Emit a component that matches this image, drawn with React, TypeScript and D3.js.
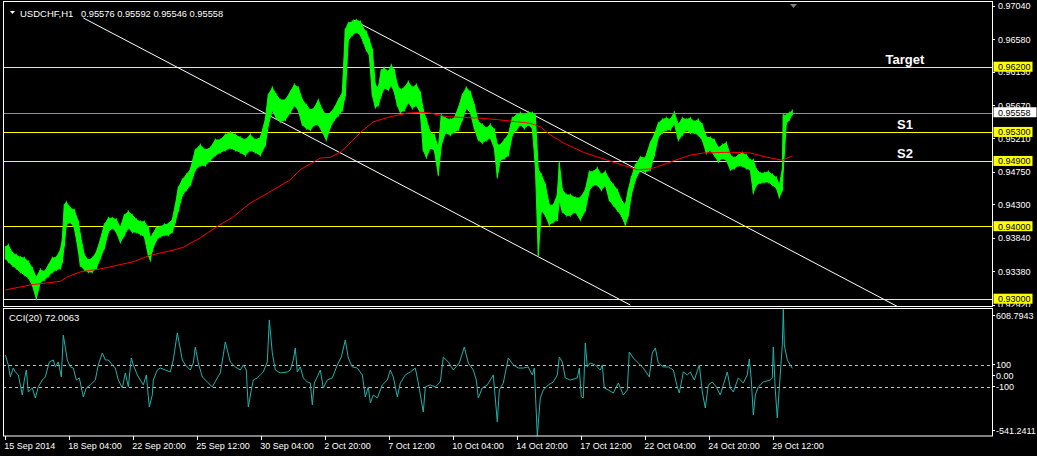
import React from "react";
import * as d3 from "d3";

// ---------- DATA ----------
const symbolTitle = "USDCHF,H1";
const lastOHLC = [0.95576, 0.95592, 0.95546, 0.95558];
const lastPrice = 0.95558;

// price bars: bar index, high, low (sampled)
const priceBars = [0,3,7,11,15,19,23,27,31,35,39,43,47,51,55,57,59,61,65,69,73,75,79,83,87,91,95,99,103,107,111,115,119,123,127,131,135,139,143,145,147,151,155,159,163,167,170,173,177,181,185,190,195,200,205,210,215,220,225,230,235,240,245,250,255,260,263,267,271,275,280,285,289,293,297,301,305,309,313,317,321,325,329,333,337,340,343,347,351,355,358,361,364,367,370,373,376,379,383,386,389,392,395,399,403,407,411,415,418,421,425,429,433,436,440,445,449,453,457,461,465,469,473,477,481,485,489,492,495,499,503,507,511,515,519,523,527,530,533,536,540,544,548,552,554,557,561,565,570,575,580,584,588,592,596,600,604,608,612,616,620,623,626,630,635,640,645,649,653,657,661,665,669,673,677,681,685,689,693,697,701,705,709,713,717,721,725,729,733,737,741,745,748,751,755,759,763,767,771,774,777,778,781,784,787];
const priceHigh = [0.9371,0.9374,0.9363,0.9360,0.9357,0.9356,0.9351,0.9342,0.9329,0.9340,0.9337,0.9346,0.9356,0.9357,0.9367,0.9381,0.9429,0.9433,0.9425,0.9422,0.9406,0.9388,0.9360,0.9353,0.9356,0.9364,0.9381,0.9402,0.9411,0.9411,0.9409,0.9398,0.9415,0.9420,0.9415,0.9409,0.9406,0.9406,0.9398,0.9384,0.9388,0.9398,0.9399,0.9402,0.9403,0.9409,0.9429,0.9453,0.9464,0.9471,0.9478,0.9505,0.9512,0.9505,0.9508,0.9519,0.9519,0.9526,0.9529,0.9526,0.9522,0.9519,0.9526,0.9519,0.9522,0.9547,0.9581,0.9591,0.9581,0.9574,0.9574,0.9585,0.9595,0.9591,0.9574,0.9567,0.9560,0.9563,0.9574,0.9560,0.9553,0.9556,0.9563,0.9574,0.9584,0.9671,0.9680,0.9682,0.9684,0.9682,0.9673,0.9668,0.9657,0.9643,0.9595,0.9591,0.9615,0.9618,0.9613,0.9622,0.9615,0.9595,0.9588,0.9591,0.9599,0.9591,0.9595,0.9584,0.9560,0.9547,0.9529,0.9526,0.9508,0.9553,0.9549,0.9547,0.9549,0.9563,0.9581,0.9591,0.9585,0.9567,0.9544,0.9540,0.9535,0.9540,0.9533,0.9512,0.9512,0.9519,0.9526,0.9549,0.9553,0.9556,0.9553,0.9557,0.9556,0.9553,0.9478,0.9471,0.9457,0.9429,0.9429,0.9443,0.9487,0.9450,0.9443,0.9443,0.9439,0.9439,0.9450,0.9475,0.9475,0.9480,0.9471,0.9475,0.9464,0.9457,0.9450,0.9436,0.9429,0.9450,0.9467,0.9484,0.9495,0.9494,0.9515,0.9526,0.9542,0.9547,0.9549,0.9547,0.9557,0.9540,0.9549,0.9547,0.9549,0.9544,0.9547,0.9540,0.9523,0.9522,0.9519,0.9508,0.9512,0.9515,0.9498,0.9494,0.9498,0.9501,0.9498,0.9491,0.9491,0.9478,0.9473,0.9473,0.9475,0.9471,0.9467,0.9457,0.9478,0.9553,0.9553,0.9556,0.9559];
const priceLow = [0.9356,0.9351,0.9346,0.9342,0.9337,0.9333,0.9329,0.9319,0.9300,0.9323,0.9326,0.9331,0.9337,0.9340,0.9342,0.9351,0.9374,0.9402,0.9406,0.9398,0.9367,0.9346,0.9340,0.9337,0.9337,0.9342,0.9356,0.9370,0.9392,0.9398,0.9392,0.9378,0.9388,0.9398,0.9392,0.9392,0.9389,0.9386,0.9360,0.9353,0.9367,0.9381,0.9386,0.9388,0.9388,0.9392,0.9406,0.9422,0.9443,0.9450,0.9457,0.9478,0.9484,0.9484,0.9491,0.9498,0.9502,0.9505,0.9508,0.9505,0.9502,0.9498,0.9505,0.9502,0.9498,0.9512,0.9540,0.9560,0.9549,0.9544,0.9547,0.9557,0.9567,0.9560,0.9540,0.9535,0.9533,0.9540,0.9540,0.9530,0.9519,0.9537,0.9547,0.9553,0.9560,0.9581,0.9657,0.9664,0.9668,0.9664,0.9654,0.9643,0.9636,0.9581,0.9564,0.9567,0.9581,0.9591,0.9588,0.9595,0.9585,0.9567,0.9557,0.9560,0.9571,0.9563,0.9567,0.9557,0.9505,0.9495,0.9508,0.9505,0.9471,0.9512,0.9529,0.9526,0.9530,0.9533,0.9547,0.9563,0.9557,0.9535,0.9519,0.9515,0.9519,0.9522,0.9508,0.9468,0.9491,0.9494,0.9498,0.9526,0.9533,0.9540,0.9535,0.9540,0.9535,0.9484,0.9360,0.9422,0.9415,0.9402,0.9406,0.9409,0.9436,0.9420,0.9415,0.9415,0.9420,0.9409,0.9422,0.9450,0.9457,0.9457,0.9450,0.9457,0.9436,0.9429,0.9422,0.9415,0.9402,0.9415,0.9443,0.9464,0.9478,0.9475,0.9478,0.9498,0.9523,0.9529,0.9533,0.9533,0.9542,0.9519,0.9526,0.9533,0.9529,0.9529,0.9526,0.9519,0.9501,0.9505,0.9498,0.9489,0.9494,0.9491,0.9478,0.9480,0.9484,0.9483,0.9480,0.9478,0.9446,0.9457,0.9460,0.9461,0.9461,0.9457,0.9453,0.9440,0.9450,0.9478,0.9542,0.9547,0.9555];

// moving average (red)
const maBars = [0,25,55,62,75,95,128,145,168,178,195,210,228,245,263,285,295,315,325,335,345,355,368,385,402,415,425,442,475,492,512,525,535,545,558,578,602,618,632,645,652,668,685,698,725,745,762,777,787];
const maValues = [0.9312,0.9319,0.9324,0.9330,0.9337,0.9341,0.9351,0.9360,0.9367,0.9371,0.9384,0.9398,0.9413,0.9432,0.9446,0.9464,0.9478,0.9494,0.9495,0.9502,0.9515,0.9529,0.9544,0.9551,0.9556,0.9557,0.9556,0.9551,0.9549,0.9547,0.9544,0.9542,0.9537,0.9526,0.9515,0.9502,0.9491,0.9484,0.9478,0.9479,0.9482,0.9490,0.9498,0.9501,0.9502,0.9501,0.9495,0.9491,0.9497];

// CCI(20)
const cciLabel = "CCI(20) 72.0063";
const cciMax = 608.7943;
const cciMin = -541.2411;
const cciBars = [0,3,5,8,10,13,17,19,21,23,27,30,33,37,40,44,48,50,53,56,58,62,65,68,71,74,78,81,85,90,93,97,100,103,107,110,113,117,120,123,126,128,132,135,138,141,144,147,148,152,155,160,165,168,172,177,180,185,188,190,193,197,202,207,212,215,218,220,225,230,235,238,241,242,243,246,248,252,255,258,262,264,267,270,275,282,285,288,290,292,295,298,302,305,307,309,312,315,318,322,327,332,336,340,343,347,352,357,360,363,365,368,372,377,382,385,388,392,395,400,405,410,413,418,420,425,430,435,438,443,448,454,459,463,468,471,473,477,482,488,492,494,498,503,508,513,518,523,527,529,532,535,538,543,548,552,554,557,560,565,572,574,576,578,580,582,585,590,595,597,599,603,608,613,618,622,624,628,633,638,644,647,650,653,658,663,668,672,674,678,682,685,689,694,697,700,703,707,711,715,718,722,725,728,733,738,742,744,746,748,750,753,758,765,767,768,770,772,774,777,778,779,782,787];
const cciValues = [194,103,-6,75,39,12,-170,-34,57,-143,-106,-197,-97,-34,-6,130,148,85,130,-6,375,148,85,75,-34,-15,-188,-106,-79,-34,103,212,148,148,103,75,-34,-106,30,-97,166,103,12,-34,-79,12,-279,-170,-34,57,75,57,39,148,394,148,103,57,121,266,121,-6,-52,-97,-15,30,194,312,130,85,57,103,57,-125,-279,-125,-34,-15,12,39,130,512,212,57,30,39,57,148,257,39,85,-15,-52,-61,-261,-61,-6,57,-106,-34,-15,103,175,330,166,85,75,12,-188,-97,-243,-170,-197,-79,-34,57,-6,-188,-61,12,39,75,-61,-325,-97,-79,-97,-52,175,130,57,121,266,121,57,-34,-197,-106,-79,12,-415,-125,-61,166,103,75,75,85,12,75,-541,-197,-125,-79,-52,12,175,130,-15,-34,-15,75,-188,-197,303,85,121,103,57,103,-106,-125,-152,-61,-170,-125,221,166,121,75,-6,212,257,121,85,85,57,-97,-152,39,12,39,-34,103,-143,-288,-79,-52,-97,-170,-79,39,-106,-143,-15,-61,12,157,-34,-352,-170,-97,-52,-34,-15,266,-125,-379,-106,285,609,285,148,72];
const cciLevels = [100, -100];
const cciAxisLabels = ["608.7943", "100", "0.00", "-100", "-541.2411"];
const cciAxisValues = [608.7943, 100, 0, -100, -541.2411];

// price axis
const priceTicks = [0.9704, 0.9658, 0.9613, 0.9567, 0.9521, 0.9475, 0.943, 0.9384, 0.9338, 0.9292];
const priceDomain = [0.9292, 0.9704];

// horizontal levels and their names
const levelPrices = [0.962, 0.953, 0.949, 0.94, 0.93];
const levelNames = ["Target", "S1", "S2"];
const levelNamePrices = [0.962, 0.953, 0.949];

// trend lines: [bar, price] start and end
const trendStartBars = [348, 78];
const trendStartPrices = [0.96844, 0.96872];
const trendEndBars = [893, 625];
const trendEndPrices = [0.92886, 0.92913];

// time axis
const timeLabels = ["15 Sep 2014", "18 Sep 04:00", "22 Sep 20:00", "25 Sep 12:00", "30 Sep 04:00", "2 Oct 20:00", "7 Oct 12:00", "10 Oct 04:00", "14 Oct 20:00", "17 Oct 12:00", "22 Oct 04:00", "24 Oct 20:00", "29 Oct 12:00"];
const timeLabelBars = [0, 64, 128, 192, 256, 320, 384, 448, 512, 576, 640, 704, 768];

// ---------- LAYOUT ----------
const W = 1037, H = 456;
const left = 3, right = 992;
const mainTop = 1, mainBottom = 306;
const cciTop = 308.5, cciBottom = 436;
const font = "'Liberation Sans', Arial, sans-serif";

export default function App() {
  const x = d3.scaleLinear().domain([0, 787]).range([5.3, 792.3]);
  const y = d3.scaleLinear().domain(priceDomain).range([304.5, 5.8]);
  const yc = d3.scaleLinear().domain([cciMin, cciMax]).range([435.8, 309.3]);

  const pts = priceBars.map((b, i) => ({ b, h: priceHigh[i], l: priceLow[i] }));
  const area = d3.area<any>().x(d => x(d.b)).y0(d => y(d.l)).y1(d => y(d.h));
  const hiLine = d3.line<any>().x(d => x(d.b)).y(d => y(d.h));
  const loLine = d3.line<any>().x(d => x(d.b)).y(d => y(d.l));
  const maLine = d3.line<number>().x((d, i) => x(maBars[i])).y(d => y(d));
  const cciLine = d3.line<number>().x((d, i) => x(cciBars[i])).y(d => yc(d));

  const levelColors = "#ffff00";

  return (
    <svg width={W} height={H} style={{ position: "fixed", left: 0, top: 0, background: "#000" }} fontFamily={font}>
      <defs>
        <clipPath id="mainClip"><rect x={left} y={mainTop} width={right - left} height={mainBottom - mainTop} /></clipPath>
        <clipPath id="axisClip"><rect x={right} y={0} width={W - right} height={307} /></clipPath>
      </defs>
      <rect x={0} y={0} width={W} height={H} fill="#000" />

      <g clipPath="url(#mainClip)">
        {levelPrices.map((p, i) => (
          <line key={i} x1={left} x2={right} y1={Math.round(y(p)) + 0.5} y2={Math.round(y(p)) + 0.5} stroke={levelColors} strokeWidth={1} />
        ))}
        <line x1={left} x2={right} y1={Math.round(y(lastPrice)) + 0.5} y2={Math.round(y(lastPrice)) + 0.5} stroke="#8a8f98" strokeWidth={1} />
        {trendStartBars.map((b, i) => (
          <line key={i} x1={x(b)} y1={y(trendStartPrices[i])} x2={x(trendEndBars[i])} y2={y(trendEndPrices[i])} stroke="#ffffff" strokeWidth={1} />
        ))}
        <path d={area(pts) || ""} fill="#00ff00" />
        <path d={hiLine(pts) || ""} fill="none" stroke="#00ff00" strokeWidth={1} />
        <path d={loLine(pts) || ""} fill="none" stroke="#00ff00" strokeWidth={1} />
        {pts.map((d, i) => (
          <line key={i} x1={x(d.b)} x2={x(d.b)} y1={y(d.h) - 1.5} y2={y(d.l) + 1.5} stroke="#00ff00" strokeWidth={1} />
        ))}
        <path d={maLine(maValues) || ""} fill="none" stroke="#ff0000" strokeWidth={1} />
        {levelNames.map((t, i) => (
          <text key={i} x={905} y={y(levelNamePrices[i]) - 3} fill="#ffffff" fontSize={13} fontWeight="bold" textAnchor="middle">{t}</text>
        ))}
        <path d="M790,4 L797,4 L793.5,8 Z" fill="#808080" />
      </g>

      {/* title */}
      <path d="M10,11 L15,11 L12.5,14 Z" fill="#ffffff" />
      <text x={20} y={16.5} fill="#ffffff" fontSize={9.5}>{symbolTitle}</text>
      <text x={81} y={16.5} fill="#ffffff" fontSize={9.3}>{lastOHLC.map(v => v.toFixed(5)).join(" ")}</text>

      {/* CCI panel */}
      <g>
        {cciLevels.map((v, i) => (
          <line key={i} x1={left} x2={right} y1={Math.round(yc(v)) + 0.5} y2={Math.round(yc(v)) + 0.5} stroke="#c0c0c0" strokeDasharray="3,3" strokeWidth={1} />
        ))}
        <path d={cciLine(cciValues) || ""} fill="none" stroke="#20b2aa" strokeWidth={1} />
        <text x={9} y={320.5} fill="#ffffff" fontSize={9.5}>{cciLabel}</text>
      </g>

      {/* frames */}
      <rect x={left + 0.5} y={mainTop + 0.5} width={right - left} height={mainBottom - mainTop} fill="none" stroke="#ffffff" />
      <rect x={left + 0.5} y={cciTop} width={right - left} height={cciBottom - cciTop} fill="none" stroke="#ffffff" />

      {/* price axis */}
      <g clipPath="url(#axisClip)">
        {priceTicks.map((p, i) => (
          <g key={i}>
            <line x1={right} x2={right + 3} y1={Math.round(y(p)) + 0.5} y2={Math.round(y(p)) + 0.5} stroke="#fff" />
            <text x={998} y={y(p) + 3.5} fill="#ffffff" fontSize={9}>{p.toFixed(5)}</text>
          </g>
        ))}
        {levelPrices.map((p, i) => (
          <g key={i}>
            <rect x={993.5} y={y(p) - 5} width={39} height={10} fill="#ffff00" />
            <text x={998} y={y(p) + 3.5} fill="#000" fontSize={9}>{p.toFixed(5)}</text>
          </g>
        ))}
        <rect x={993.5} y={y(lastPrice) - 6} width={43} height={10} fill="#ffffff" />
        <text x={998} y={y(lastPrice) + 2.5} fill="#000" fontSize={9}>{lastPrice.toFixed(5)}</text>
      </g>

      {/* cci axis */}
      {cciAxisValues.map((v, i) => {
        let cy = yc(v) - 1;
        if (i === 0) cy = cciTop + 6.5;
        if (i === cciAxisValues.length - 1) cy = cciBottom - 6;
        return (
          <g key={i}>
            <line x1={right} x2={right + 3} y1={Math.round(cy) + 0.5} y2={Math.round(cy) + 0.5} stroke="#fff" />
            <text x={996} y={cy + 3.5} fill="#ffffff" fontSize={9}>{cciAxisLabels[i]}</text>
          </g>
        );
      })}

      {/* time axis */}
      {timeLabelBars.map((b, i) => (
        <g key={i}>
          <line x1={Math.round(x(b)) + 0.5} x2={Math.round(x(b)) + 0.5} y1={cciBottom} y2={cciBottom + 4} stroke="#fff" />
          <text x={x(b) - 1} y={449} fill="#ffffff" fontSize={9}>{timeLabels[i]}</text>
        </g>
      ))}
    </svg>
  );
}
